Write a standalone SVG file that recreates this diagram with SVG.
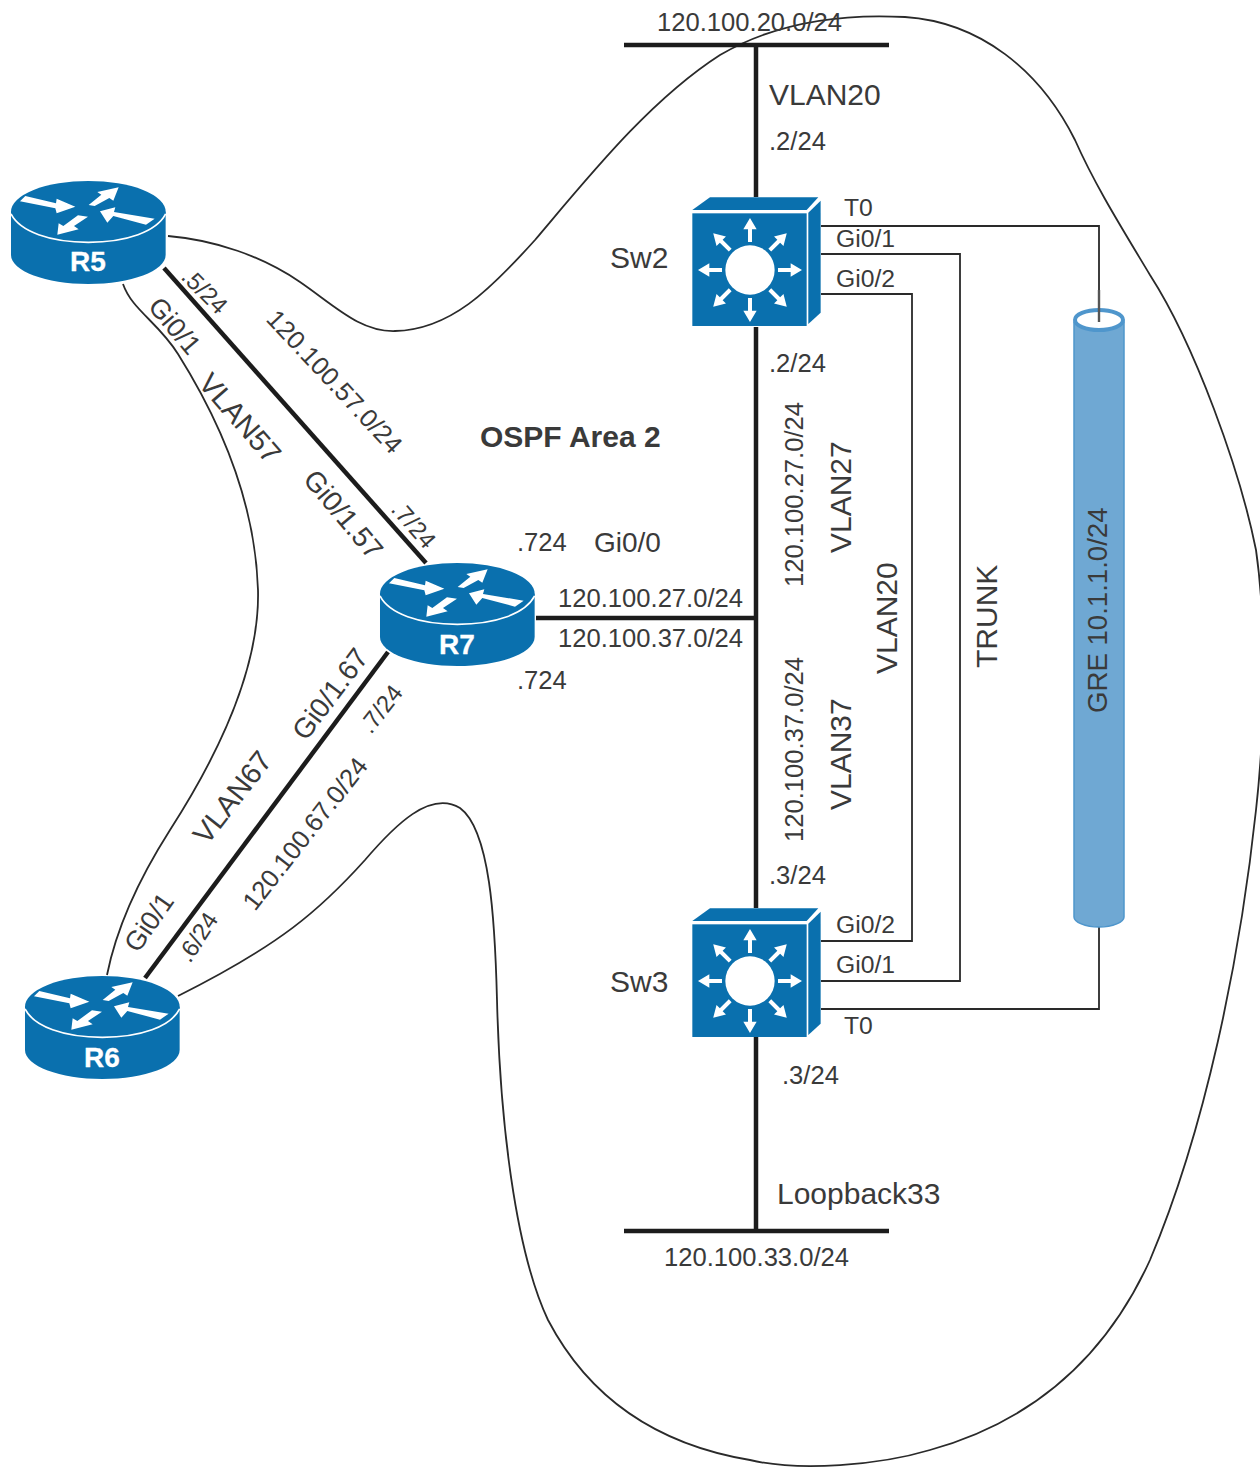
<svg xmlns="http://www.w3.org/2000/svg" width="1260" height="1468" viewBox="0 0 1260 1468">
<style>
text{font-family:"Liberation Sans",Arial,sans-serif;fill:#3a3a3a}
.s{font-size:25.6px}.l{font-size:30px}.g{font-size:24.7px}.r{font-size:28px;font-weight:bold;fill:#fff;text-anchor:middle;stroke:#fff;stroke-width:.3px}
.b{font-size:30px;font-weight:bold}
.thick{fill:none;stroke:#1c1c1c;stroke-width:4.5}
.thin{fill:none;stroke:#2a2a2a;stroke-width:1.8}
.grey{fill:none;stroke:#555;stroke-width:2.4}
</style>
<defs>
<g id="router">
<path d="M33 125V255C33 303 137 342 265 342S497 303 497 255V125Z" fill="#0a70ae"/>
<ellipse cx="265" cy="125" rx="232" ry="92" fill="#0a70ae"/>
<path d="M33 132C60 185 150 217 265 217S470 185 497 132" fill="none" stroke="#fff" stroke-width="5"/>
<path d="M60 94L76 78L168 100L170 86L226 110L170 130L166 115ZM266 105L304 74L292 66L356 52L340 92L328 84L284 108ZM300 124L346 112L342 126L464 146L438 164L340 138L322 158ZM264 140L222 168L236 178L172 194L176 160L190 168L234 136Z" fill="#fff"/>
</g>
<g id="switch">
<path d="M97 90L150 52H475L440 90Z" fill="#0a70ae"/>
<path d="M445 98L482 62V398L445 432Z" fill="#0a70ae"/>
<rect x="97" y="100" width="343" height="338" fill="#0a70ae"/>
<circle cx="270" cy="270" r="74" fill="#fff"/>
<g fill="#fff">
<path id="sa" d="M264 186V148H250L270 114L290 148H276V186Z"/>
<use href="#sa" transform="rotate(45 270 270)"/>
<use href="#sa" transform="rotate(90 270 270)"/>
<use href="#sa" transform="rotate(135 270 270)"/>
<use href="#sa" transform="rotate(180 270 270)"/>
<use href="#sa" transform="rotate(225 270 270)"/>
<use href="#sa" transform="rotate(270 270 270)"/>
<use href="#sa" transform="rotate(315 270 270)"/>
</g>
</g>
</defs>
<rect width="1260" height="1468" fill="#fff"/>
<g id="connectors">
<path class="thin" d="M168 236C215 240 262 256 300 282C335 306 360 332 395 331C450 330 490 290 535 240C590 175 650 100 720 55C780 20 850 14 905 17C980 22 1040 70 1075 140C1095 185 1120 225 1150 275C1195 345 1240 470 1256 550C1266 620 1266 720 1256 810C1240 960 1205 1130 1150 1260C1100 1370 1020 1425 930 1450C880 1465 800 1472 750 1460C660 1445 590 1400 548 1320C515 1250 500 1120 497 1000C495 920 490 830 460 808C430 790 395 825 365 860C320 910 280 945 178 996"/>
<path class="thin" d="M123 284C132 310 158 322 178 354C210 405 255 490 258 590C260 670 215 760 170 830C135 885 115 935 107 975"/>
<path class="thick" d="M164 268L426 563"/>
<path class="thick" d="M388 652L145 978"/>
<path class="thick" d="M536 618H756"/>
<path class="thick" d="M624 45H889M756 45V197M756 327V908M756 1037V1231M624 1231H889"/>
<path class="thin" d="M821 226H1099V313M821 254H960V981H821M821 294H912V941H821M821 1009H1099V925"/>
</g>
<g id="R5"><use href="#router" transform="translate(0 170) scale(.3333)"/><text class="r" x="88" y="271">R5</text></g>
<g id="R7"><use href="#router" transform="translate(369 552) scale(.3333)"/><text class="r" x="457" y="654">R7</text></g>
<g id="R6"><use href="#router" transform="translate(14 965) scale(.3333)"/><text class="r" x="102" y="1067">R6</text></g>
<g id="Sw2"><use href="#switch" transform="translate(660 180) scale(.3333)"/></g>
<g id="Sw3"><use href="#switch" transform="translate(660 891) scale(.3333)"/></g>
<g id="GRE">
<path d="M1074 322V917C1074 922 1085 927 1099 927S1124 922 1124 917V322Z" fill="#6fa8d3" stroke="#4f96cc" stroke-width="1.5"/>
<ellipse cx="1099" cy="320" rx="24" ry="10" fill="#fff" stroke="#4f96cc" stroke-width="4"/>
<path class="grey" d="M1099 290V322"/>
</g>
<g id="labels">
<text class="s" x="657" y="31">120.100.20.0/24</text>
<text class="l" x="769" y="105">VLAN20</text>
<text class="s" x="769" y="150">.2/24</text>
<text class="l" x="610" y="268">Sw2</text>
<text class="g" x="844" y="216">T0</text>
<text class="g" x="836" y="247">Gi0/1</text>
<text class="g" x="836" y="287">Gi0/2</text>
<text class="s" x="769" y="372">.2/24</text>
<text class="b" x="480" y="447">OSPF Area 2</text>
<text class="s" x="517" y="551">.724</text>
<text class="l" x="594" y="552" style="font-size:28px">Gi0/0</text>
<text class="s" x="558" y="607">120.100.27.0/24</text>
<text class="s" x="558" y="647">120.100.37.0/24</text>
<text class="s" x="517" y="689">.724</text>
<text class="s" x="769" y="884">.3/24</text>
<text class="g" x="836" y="933">Gi0/2</text>
<text class="g" x="836" y="973">Gi0/1</text>
<text class="g" x="844" y="1034">T0</text>
<text class="l" x="610" y="992">Sw3</text>
<text class="s" x="782" y="1084">.3/24</text>
<text class="l" x="777" y="1204">Loopback33</text>
<text class="s" x="664" y="1266">120.100.33.0/24</text>
<text class="s" transform="translate(803 587) rotate(-90)">120.100.27.0/24</text>
<text class="s" transform="translate(803 842) rotate(-90)">120.100.37.0/24</text>
<text class="l" transform="translate(851 553) rotate(-90)">VLAN27</text>
<text class="l" transform="translate(851 810) rotate(-90)">VLAN37</text>
<text class="l" transform="translate(897 674) rotate(-90)">VLAN20</text>
<text class="l" transform="translate(997 668) rotate(-90)">TRUNK</text>
<text transform="translate(1107 713) rotate(-90)" style="font-size:27.6px">GRE 10.1.1.0/24</text>
<text class="s" transform="translate(180 278) rotate(45)" style="font-size:24px">.5/24</text>
<text class="s" transform="translate(265 320) rotate(47)">120.100.57.0/24</text>
<text class="g" transform="translate(147 307) rotate(50)" style="font-size:27px">Gi0/1</text>
<text class="l" transform="translate(197 384) rotate(49)" style="font-size:29px">VLAN57</text>
<text class="g" transform="translate(302 480) rotate(50)" style="font-size:28px">Gi0/1.57</text>
<text class="s" transform="translate(390 510) rotate(49)" style="font-size:24px">.7/24</text>
<text class="g" transform="translate(306 742) rotate(-53)" style="font-size:28px">Gi0/1.67</text>
<text class="s" transform="translate(371 735) rotate(-52)" style="font-size:24px">.7/24</text>
<text class="l" transform="translate(207 846) rotate(-52)" style="font-size:29px">VLAN67</text>
<text class="s" transform="translate(255 912) rotate(-52)">120.100.67.0/24</text>
<text class="g" transform="translate(138 954) rotate(-55)" style="font-size:27px">Gi0/1</text>
<text class="s" transform="translate(190 964) rotate(-57)" style="font-size:24px">.6/24</text>
</g>
</svg>
